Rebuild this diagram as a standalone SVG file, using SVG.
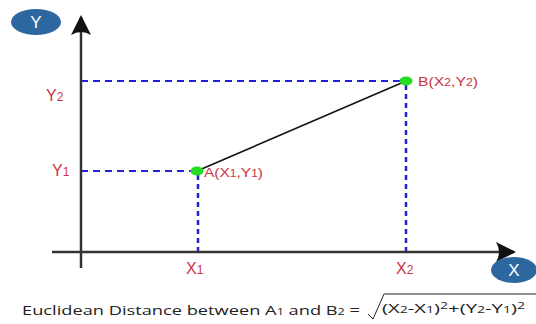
<svg xmlns="http://www.w3.org/2000/svg" width="536" height="324" viewBox="0 0 536 324">
<defs>
<marker id="ah" viewBox="0 0 20 20" refX="18" refY="10" markerWidth="20" markerHeight="20" markerUnits="userSpaceOnUse" orient="auto">
<path d="M0,0 L20,10 L0,20 Q6,10 0,0 Z" fill="#111"/>
</marker>
<style>
.axis{stroke:#333;stroke-width:2.5;fill:none}
.dash{stroke:#2222dd;stroke-width:2;stroke-dasharray:7 5;fill:none}
.vdash{stroke:#2222dd;stroke-width:2.5;stroke-dasharray:5 4;fill:none}
.lbl{font-family:"Liberation Sans",Arial,sans-serif;fill:#cc3340}
.badge{fill:#2d67a0}
.bt{font-family:"Liberation Sans",Arial,sans-serif;fill:#fff;font-size:17px;text-anchor:middle}
.pt{fill:#22dd22}
.eq{font-family:"Open Sans","Liberation Sans",sans-serif;fill:#222;font-size:13px}
</style>
</defs>
<g id="connectors">
<line class="dash" x1="81" y1="81" x2="406" y2="81"/>
<line class="dash" x1="81" y1="171" x2="197" y2="171"/>
<line class="vdash" x1="198" y1="175" x2="198" y2="251"/>
<line class="vdash" x1="406" y1="85" x2="406" y2="251"/>
<line x1="197" y1="171" x2="406" y2="81" stroke="#111" stroke-width="1.6"/>
</g>
<g id="y-axis">
<line class="axis" x1="81" y1="268" x2="81" y2="17" marker-end="url(#ah)"/>
</g>
<g id="x-axis">
<line class="axis" x1="52" y1="252" x2="514" y2="252" marker-end="url(#ah)"/>
</g>
<g id="badge-y">
<ellipse class="badge" cx="36" cy="22" rx="25" ry="13"/>
<text class="bt" x="36" y="28">Y</text>
</g>
<g id="badge-x">
<ellipse class="badge" cx="514" cy="270" rx="23" ry="13"/>
<text class="bt" x="514" y="276">X</text>
</g>
<g id="label-y2"><text class="lbl" x="46" y="101" font-size="16">Y<tspan font-size="12">2</tspan></text></g>
<g id="label-y1"><text class="lbl" x="52" y="176" font-size="16">Y<tspan font-size="12">1</tspan></text></g>
<g id="label-x1"><text class="lbl" x="186" y="274" font-size="16">X<tspan font-size="12">1</tspan></text></g>
<g id="label-x2"><text class="lbl" x="396" y="274" font-size="16">X<tspan font-size="12">2</tspan></text></g>
<g id="point-a">
<ellipse class="pt" cx="197" cy="171" rx="6.5" ry="4.5"/>
<text class="lbl" x="204" y="177" font-size="13" textLength="59" lengthAdjust="spacingAndGlyphs">A(X<tspan font-size="10">1</tspan>,Y<tspan font-size="10">1</tspan>)</text>
</g>
<g id="point-b">
<ellipse class="pt" cx="406" cy="81" rx="6.5" ry="4.5"/>
<text class="lbl" x="418" y="86" font-size="13" textLength="60" lengthAdjust="spacingAndGlyphs">B(X<tspan font-size="10">2</tspan>,Y<tspan font-size="10">2</tspan>)</text>
</g>
<g id="formula">
<text class="eq" x="22" y="315" textLength="338" lengthAdjust="spacingAndGlyphs">Euclidean Distance between A<tspan font-size="9">1</tspan> and B<tspan font-size="9">2</tspan> =</text>
<path d="M368,314 L373,319 L384,294 L536,294" fill="none" stroke="#222" stroke-width="1"/>
<text class="eq" x="382" y="313" textLength="143" lengthAdjust="spacingAndGlyphs">(X<tspan font-size="9">2</tspan>-X<tspan font-size="9">1</tspan>)<tspan font-size="9" dy="-4">2</tspan><tspan dy="4">+(Y</tspan><tspan font-size="9">2</tspan>-Y<tspan font-size="9">1</tspan>)<tspan font-size="9" dy="-4">2</tspan></text>
</g>
</svg>
